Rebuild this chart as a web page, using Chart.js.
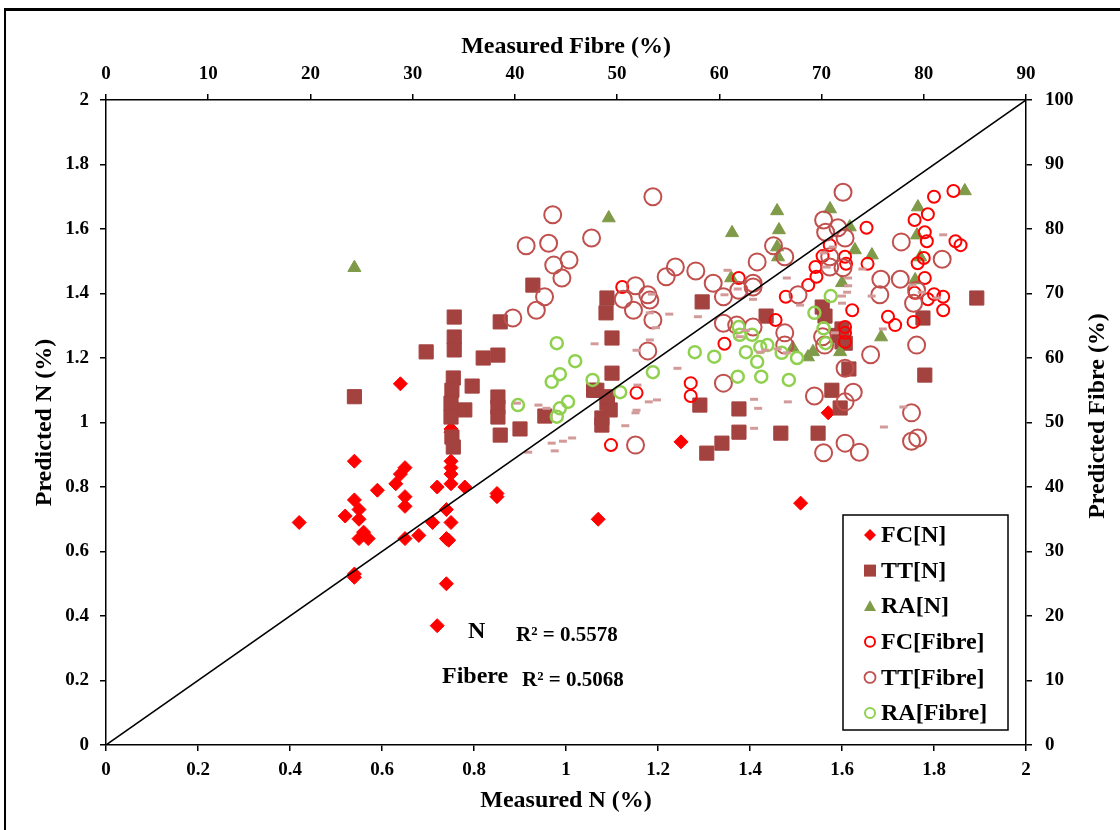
<!DOCTYPE html>
<html>
<head>
<meta charset="utf-8">
<script src="https://cdn.jsdelivr.net/npm/chart.js@4.4.1/dist/chart.umd.min.js"></script>
<style>
  html, body { margin: 0; padding: 0; background: #fff; }
  #wrap { width: 1120px; height: 830px; }
</style>
</head>
<body>
<div id="wrap"><canvas id="chart"></canvas></div>
<script>
// Datos N (%) : [medido, predicho]
const fcN = [[0.42,0.69],[0.54,0.88],[0.59,0.79],[0.65,0.86],[0.64,0.84],[0.63,0.81],[0.65,0.77],[0.65,0.74],
  [0.54,0.76],[0.55,0.73],[0.52,0.71],[0.55,0.70],[0.55,0.64],[0.57,0.64],[0.56,0.66],[0.54,0.52],[0.54,0.53],
  [0.72,0.80],[0.75,0.88],[0.75,0.86],[0.75,0.84],[0.75,0.81],[0.78,0.80],[0.74,0.73],[0.71,0.69],[0.75,0.69],
  [0.74,0.64],[0.745,0.635],[0.68,0.65],[0.65,0.64],[0.74,0.50],[0.72,0.37],[0.85,0.78],[0.85,0.77],[1.07,0.70],
  [0.64,1.12],[0.75,0.98],[0.75,0.97],[1.25,0.94],[1.57,1.03],[1.51,0.75]];
const ttN = [[0.54,1.08],[0.757,1.327],[0.757,1.265],[0.757,1.225],[0.696,1.219],[0.82,1.20],[0.852,1.209],
  [0.857,1.312],[0.796,1.113],[0.755,1.138],[0.752,1.10],[0.75,1.06],[0.75,1.017],[0.78,1.039],[0.752,0.955],
  [0.755,0.924],[0.852,1.079],[0.852,1.048],[0.852,1.017],[0.857,0.961],[0.90,0.98],[0.954,1.02],[0.928,1.426],
  [1.089,1.386],[1.087,1.34],[1.10,1.262],[1.10,1.153],[1.067,1.10],[1.089,1.06],[1.078,1.014],[1.096,1.039],
  [1.078,0.992],[1.06,1.10],[1.09,1.08],[1.296,1.374],[1.435,1.33],[1.557,1.358],[1.563,1.33],[1.59,1.27],
  [1.607,1.246],[1.615,1.166],[1.578,1.10],[1.596,1.045],[1.291,1.054],[1.376,1.042],[1.376,0.97],[1.339,0.936],
  [1.306,0.905],[1.467,0.967],[1.548,0.967],[1.776,1.324],[1.78,1.147],[1.893,1.386],[1.60,1.25],[1.60,1.29]];
const raN = [[0.54,1.48],[1.093,1.634],[1.361,1.588],[1.459,1.656],[1.463,1.597],[1.459,1.544],[1.461,1.513],
  [1.359,1.448],[1.574,1.662],[1.617,1.606],[1.628,1.535],[1.665,1.519],[1.60,1.433],[1.596,1.219],[1.537,1.219],
  [1.526,1.203],[1.493,1.231],[1.685,1.265],[1.765,1.668],[1.763,1.581],[1.77,1.513],[1.759,1.442],[1.867,1.718]];

// Datos Fibra (%) : [medido, predicho]
const fcFibre = [[50.5,71.0],[51.9,54.6],[49.4,46.5],[61.9,72.4],[66.5,69.5],[65.5,65.9],[60.5,62.2],[57.2,56.1],
  [57.2,54.1],[68.7,71.3],[69.5,72.6],[69.4,74.1],[70.1,75.8],[70.8,77.5],[72.3,75.7],[72.4,74.6],[73.0,67.4],
  [72.3,64.8],[72.3,63.9],[72.3,62.5],[74.4,80.2],[74.5,74.6],[76.5,66.4],[77.2,65.1],[79.0,65.6],[79.1,81.4],
  [80.4,82.3],[80.1,79.5],[80.3,78.1],[80.0,75.5],[79.4,74.7],[80.1,72.4],[79.1,70.1],[80.4,69.1],[81.0,69.9],
  [81.9,69.5],[81.9,67.4],[81.0,85.0],[82.9,85.9],[83.1,78.1],[83.6,77.5]];
const ttFibre = [[43.7,82.2],[41.1,77.4],[43.3,77.8],[47.5,78.6],[43.8,74.4],[45.3,75.2],[44.6,72.4],[42.9,69.5],
  [42.1,67.4],[39.8,66.2],[53.5,85.0],[51.8,71.2],[50.6,69.1],[51.6,67.4],[53.0,69.8],[53.2,69.0],[53.5,65.9],
  [53.0,61.1],[51.8,46.5],[72.1,85.7],[55.7,74.1],[54.8,72.6],[57.7,73.5],[59.4,71.6],[60.4,69.5],[61.9,70.5],
  [63.3,71.6],[63.3,71.0],[63.7,74.9],[65.3,77.4],[66.4,75.7],[67.7,69.8],[66.4,63.9],[66.4,62.0],[63.3,64.8],
  [61.7,65.1],[60.4,65.4],[60.4,56.1],[70.2,81.4],[70.4,79.5],[71.6,80.2],[72.3,78.6],[70.8,75.7],[72.1,74.0],
  [75.8,72.2],[75.7,69.8],[77.8,78.0],[77.7,72.2],[81.8,75.3],[79.3,70.5],[79.0,68.5],[79.3,62.0],[74.8,60.5],
  [70.3,62.0],[72.3,58.4],[73.1,54.7],[69.3,54.1],[72.3,53.2],[78.8,51.5],[78.8,47.1],[79.4,47.6],[72.3,46.8],
  [73.7,45.4],[70.2,45.3],[70.8,74.1],[70.1,63.3]];
const raFibre = [[40.3,52.7],[44.1,62.3],[45.9,59.5],[44.4,57.5],[43.6,56.3],[45.2,53.2],[44.4,52.2],[44.1,50.9],
  [47.6,56.6],[50.3,54.7],[53.5,57.8],[57.6,60.9],[59.5,60.2],[61.9,64.8],[62.0,63.6],[63.2,63.6],[62.6,60.9],
  [64.0,61.7],[64.7,62.0],[63.7,59.4],[66.1,60.8],[67.6,60.0],[61.8,57.1],[64.1,57.1],[66.8,56.6],[70.9,69.6],
  [69.3,67.0],[70.2,64.6],[70.4,62.3]];
// marcas pequeñas (guiones) sin leyenda
const dashFibre = [[47.8,62.2],[51.9,61.2],[53.2,62.8],[42.3,52.7],[43.1,52.2],[40.2,53.0],[52.0,55.8],[53.1,53.2],
  [53.9,53.5],[51.9,51.9],[51.8,51.5],[50.8,49.5],[43.6,46.8],[44.7,47.1],[45.6,47.6],[43.9,45.6],[41.3,45.4],
  [53.4,69.9],[53.2,67.0],[53.8,64.7],[60.8,73.6],[66.6,72.4],[55.1,66.8],[57.9,66.4],[63.3,69.1],[61.8,70.7],
  [60.5,69.8],[67.9,68.2],[74.9,69.6],[74.0,73.8],[72.0,69.6],[72.6,71.2],[72.6,72.4],[72.0,68.5],[72.5,70.2],
  [70.5,74.1],[70.2,76.3],[71.1,77.2],[81.9,79.1],[78.9,71.3],[79.8,70.2],[81.3,69.3],[76.0,64.5],[71.3,63.9],
  [65.7,61.4],[64.0,60.9],[55.9,58.4],[63.4,53.6],[63.8,52.2],[66.7,53.2],[63.4,49.1],[76.1,49.3],[78.0,52.4],
  [62.0,63.3],[62.6,64.3],[64.5,61.2],[66.6,60.8]];
const lineaUno = [[0,0],[2,2]];

const seriesNames = ['FC[N]', 'TT[N]', 'RA[N]', 'FC[Fibre]', 'TT[Fibre]', 'RA[Fibre]'];
const r2Text = ['R² = 0.5578', 'R² = 0.5068'];

const pts = arr => arr.map(p => ({x: p[0], y: p[1]}));
const SERIF = "'Liberation Serif', 'Times New Roman', serif";
const tickFont = {family: SERIF, size: 19, weight: 'bold'};
const titleFont = {family: SERIF, size: 24, weight: 'bold'};

const legendItems = [
  {style: 'rectRot', fill: '#ff0000', stroke: '#ff0000', r: 6},
  {style: 'rect', fill: '#a3423f', stroke: '#a3423f', r: 6},
  {style: 'triangle', fill: '#7f9a48', stroke: '#7f9a48', r: 6},
  {style: 'circle', fill: null, stroke: '#ff0000', r: 5, lw: 2},
  {style: 'circle', fill: null, stroke: '#c0504d', r: 5.5, lw: 1.8},
  {style: 'circle', fill: null, stroke: '#8fd14f', r: 5, lw: 2}
];

function marker(ctx, it, x, y) {
  ctx.beginPath();
  const r = it.r;
  if (it.style === 'rectRot') {
    ctx.moveTo(x - r, y); ctx.lineTo(x, y - r); ctx.lineTo(x + r, y); ctx.lineTo(x, y + r); ctx.closePath();
  } else if (it.style === 'rect') {
    ctx.rect(x - r, y - r, 2 * r, 2 * r);
  } else if (it.style === 'triangle') {
    ctx.moveTo(x, y - r); ctx.lineTo(x + r, y + r * 0.8); ctx.lineTo(x - r, y + r * 0.8); ctx.closePath();
  } else {
    ctx.arc(x, y, r, 0, Math.PI * 2);
  }
  if (it.fill) { ctx.fillStyle = it.fill; ctx.fill(); }
  else { ctx.strokeStyle = it.stroke; ctx.lineWidth = it.lw; ctx.stroke(); }
}

const extras = {
  id: 'extras',
  beforeDraw(chart) {
    const ctx = chart.ctx;
    ctx.save();
    ctx.fillStyle = '#fff';
    ctx.fillRect(0, 0, chart.width, chart.height);
    ctx.restore();
  },
  afterDraw(chart) {
    const ctx = chart.ctx;
    ctx.save();
    // marco exterior
    ctx.fillStyle = '#000';
    ctx.fillRect(4, 8, chart.width, 3);
    ctx.fillRect(4, 8, 2, chart.height);

    // título eje derecho
    ctx.save();
    ctx.translate(1098, 416);
    ctx.rotate(-Math.PI / 2);
    ctx.font = "bold 24px " + SERIF;
    ctx.textAlign = 'center';
    ctx.textBaseline = 'middle';
    ctx.fillText('Predicted Fibre (%)', 0, 0);
    ctx.restore();

    // R²
    ctx.fillStyle = '#000';
    ctx.textBaseline = 'middle';
    ctx.textAlign = 'left';
    ctx.font = "bold 24px " + SERIF;
    ctx.fillText('N', 468, 632);
    ctx.fillText('Fibere', 442, 677);
    ctx.font = "bold 21px " + SERIF;
    ctx.fillText(r2Text[0], 516, 636);
    ctx.fillText(r2Text[1], 522, 681);

    // leyenda
    ctx.fillStyle = '#fff';
    ctx.fillRect(843, 515, 165, 215);
    ctx.strokeStyle = '#000';
    ctx.lineWidth = 1.5;
    ctx.strokeRect(843, 515, 165, 215);
    ctx.font = "bold 24px " + SERIF;
    seriesNames.forEach((name, i) => {
      const y = 535 + i * 35.6;
      marker(ctx, legendItems[i], 870, y);
      ctx.fillStyle = '#000';
      ctx.textBaseline = 'middle';
      ctx.fillText(name, 881, y + 1);
    });
    ctx.restore();
  }
};

const axisGrid = {drawOnChartArea: false, drawTicks: true, tickLength: 6, color: '#000', lineWidth: 1.5};
const axisBorder = {display: true, color: '#000', width: 1.5};
const fmt = v => String(+v.toFixed(1));

new Chart(document.getElementById('chart'), {
  type: 'scatter',
  data: {
    datasets: [
      {label: seriesNames[0], data: pts(fcN), xAxisID: 'x', yAxisID: 'y', order: 9,
        pointStyle: 'rectRot', pointRadius: 7, backgroundColor: '#ff0000', borderColor: '#ff0000', borderWidth: 1},
      {label: seriesNames[1], data: pts(ttN), xAxisID: 'x', yAxisID: 'y', order: 8,
        pointStyle: 'rect', pointRadius: 10, backgroundColor: '#a3423f', borderColor: '#a3423f', borderWidth: 1},
      {label: seriesNames[2], data: pts(raN), xAxisID: 'x', yAxisID: 'y', order: 7,
        pointStyle: 'triangle', pointRadius: 7.5, backgroundColor: '#7f9a48', borderColor: '#7f9a48', borderWidth: 1},
      {label: seriesNames[3], data: pts(fcFibre), xAxisID: 'x2', yAxisID: 'y2', order: 6,
        pointStyle: 'circle', pointRadius: 6, backgroundColor: 'rgba(0,0,0,0)', borderColor: '#ff0000', borderWidth: 2},
      {label: seriesNames[4], data: pts(ttFibre), xAxisID: 'x2', yAxisID: 'y2', order: 5,
        pointStyle: 'circle', pointRadius: 8.5, backgroundColor: 'rgba(0,0,0,0)', borderColor: '#c0504d', borderWidth: 2},
      {label: seriesNames[5], data: pts(raFibre), xAxisID: 'x2', yAxisID: 'y2', order: 4,
        pointStyle: 'circle', pointRadius: 6, backgroundColor: 'rgba(0,0,0,0)', borderColor: '#8fd14f', borderWidth: 2.5},
      {label: 'dash', data: pts(dashFibre), xAxisID: 'x2', yAxisID: 'y2', order: 3,
        pointStyle: 'line', pointRadius: 4, borderColor: '#d39a9a', borderWidth: 3},
      {type: 'line', label: '1:1', data: pts(lineaUno), xAxisID: 'x', yAxisID: 'y', order: 1,
        borderColor: '#000', borderWidth: 1.5, pointRadius: 0, fill: false}
    ]
  },
  options: {
    responsive: true,
    maintainAspectRatio: false,
    animation: false,
    events: [],
    layout: {padding: 0},
    plugins: {legend: {display: false}, tooltip: {enabled: false}},
    scales: {
      x: {
        type: 'linear', position: 'bottom', min: 0, max: 2,
        ticks: {stepSize: 0.2, font: tickFont, color: '#000', padding: 8, callback: fmt, maxRotation: 0},
        grid: axisGrid, border: axisBorder,
        title: {display: true, text: 'Measured N (%)', font: titleFont, color: '#000', padding: {top: 0, bottom: 15}},
        afterFit: s => { s.height = 85; }
      },
      x2: {
        type: 'linear', position: 'top', min: 0, max: 90,
        ticks: {stepSize: 10, font: tickFont, color: '#000', padding: 9, maxRotation: 0},
        grid: axisGrid, border: axisBorder,
        title: {display: true, text: 'Measured Fibre (%)', font: titleFont, color: '#000', padding: {top: 32, bottom: 0}},
        afterFit: s => { s.height = 100; }
      },
      y: {
        type: 'linear', position: 'left', min: 0, max: 2,
        ticks: {stepSize: 0.2, font: tickFont, color: '#000', padding: 11, callback: fmt},
        grid: axisGrid, border: axisBorder,
        title: {display: true, text: 'Predicted N (%)', font: titleFont, color: '#000', padding: {top: 30, bottom: 0}},
        afterFit: s => { s.width = 106; }
      },
      y2: {
        type: 'linear', position: 'right', min: 0, max: 100,
        ticks: {stepSize: 10, font: tickFont, color: '#000', padding: 13},
        grid: axisGrid, border: axisBorder,
        title: {display: false},
        afterFit: s => { s.width = 94; }
      }
    }
  },
  plugins: [extras]
});
</script>
</body>
</html>
